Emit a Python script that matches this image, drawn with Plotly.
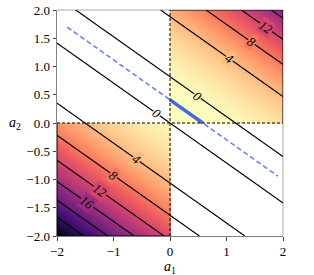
import numpy as np
import plotly.graph_objects as go
from plotly.colors import sample_colorscale

# ---- data ----
W = [1.0, 1.414]            # f depends on v = W[0]*a1 + W[1]*a2
ROOT2 = 1.16                # f = v * (v - ROOT2): zero contours at v = 0 and v = ROOT2
LEVEL_START, LEVEL_END, LEVEL_STEP = 0, 28, 4
MIN_LINE_A1 = [-1.82, 1.91]  # extent of the dashed minimiser line (a1)
SEG_A1 = [0.0, 0.58]         # thick minimiser segment inside first quadrant (a1)

LABEL_TEXT = ["0", "0", "4", "8", "12", "4", "8", "12", "16"]
LABEL_A1 = [-0.235, 0.49, 1.05, 1.435, 1.70, -0.59, -1.00, -1.24, -1.47]
LABEL_A2 = [0.166, 0.474, 1.14, 1.44, 1.69, -0.64, -0.93, -1.195, -1.41]

XTICKS = [-2, -1, 0, 1, 2]
XTICKTEXT = ["\u22122", "\u22121", "0", "1", "2"]
YTICKS = [-2.0, -1.5, -1.0, -0.5, 0.0, 0.5, 1.0, 1.5, 2.0]
YTICKTEXT = ["\u22122.0", "\u22121.5", "\u22121.0", "\u22120.5", "0.0", "0.5", "1.0", "1.5", "2.0"]

# ---- surface ----
a = np.linspace(-2, 2, 401)
A1, A2 = np.meshgrid(a, a)


def f_of(a1, a2):
    v = W[0] * a1 + W[1] * a2
    return v * (v - ROOT2)


F = f_of(A1, A2)
mask = (A1 * A2) >= 0
Fm = np.where(mask, F, np.nan)
zmin, zmax = float(np.nanmin(Fm)), float(np.nanmax(Fm))

CS = "Magma_r"

fig = go.Figure()
fig.add_trace(go.Heatmap(x=a, y=a, z=Fm, colorscale=CS, zmin=zmin, zmax=zmax,
                         showscale=False, hoverinfo="skip", zsmooth=False))
fig.add_trace(go.Contour(x=a, y=a, z=F,
                         contours=dict(start=LEVEL_START, end=LEVEL_END, size=LEVEL_STEP,
                                       coloring="lines", showlabels=False),
                         colorscale=[[0, "black"], [1, "black"]],
                         line=dict(width=1.2), showscale=False, hoverinfo="skip"))

# minimiser line v = ROOT2/2
vmin = ROOT2 / 2
ml_a1 = np.array(MIN_LINE_A1)
fig.add_trace(go.Scatter(x=ml_a1, y=(vmin - W[0] * ml_a1) / W[1], mode="lines",
                         line=dict(color="rgba(80,120,235,0.9)", width=1.6, dash="5px,3px"),
                         hoverinfo="skip"))
sg_a1 = np.array(SEG_A1)
fig.add_trace(go.Scatter(x=sg_a1, y=(vmin - W[0] * sg_a1) / W[1], mode="lines",
                         line=dict(color="royalblue", width=3.5), hoverinfo="skip"))

shapes = []
# quadrant borders (dashed)
shapes.append(dict(type="line", xref="x", yref="y", x0=0, x1=0, y0=-2, y1=2,
                   line=dict(color="black", width=1, dash="3px,2px")))
shapes.append(dict(type="line", xref="x", yref="y", x0=-2, x1=2, y0=0, y1=0,
                   line=dict(color="black", width=1, dash="3px,2px")))
# outer borders of the shaded squares
for x0, y0, x1, y1 in [(0, 2, 2, 2), (2, 0, 2, 2), (-2, -2, 0, -2), (-2, -2, -2, 0)]:
    shapes.append(dict(type="line", xref="x", yref="y", x0=x0, x1=x1, y0=y0, y1=y1,
                       line=dict(color="black", width=1)))
# top/right spines in light grey
shapes.append(dict(type="line", xref="paper", yref="paper", x0=0, x1=1, y0=1, y1=1,
                   line=dict(color="#c4c4c4", width=1.5), layer="below"))
shapes.append(dict(type="line", xref="paper", yref="paper", x0=1, x1=1, y0=0, y1=1,
                   line=dict(color="#c4c4c4", width=1.5), layer="below"))

annotations = []
for t, x, y in zip(LABEL_TEXT, LABEL_A1, LABEL_A2):
    if x * y >= 0:
        fv = f_of(x, y)
        bg = sample_colorscale(CS, [(fv - zmin) / (zmax - zmin)])[0]
    else:
        bg = "white"
    annotations.append(dict(x=x, y=y, xref="x", yref="y", text="<i>" + t + "</i>",
                            showarrow=False, textangle=35, bgcolor=bg, borderpad=0,
                            font=dict(family="Liberation Serif", size=13, color="black")))
annotations.append(dict(x=0, y=-0.139, xref="x", yref="paper", xanchor="center",
                        yanchor="middle", text="<i>a</i><sub>1</sub>", showarrow=False,
                        font=dict(family="Liberation Serif", size=14, color="black")))
annotations.append(dict(x=-0.186, y=0, xref="paper", yref="y", xanchor="center",
                        yanchor="middle", text="<i>a</i><sub>2</sub>", showarrow=False,
                        font=dict(family="Liberation Serif", size=14, color="black")))

axis_common = dict(showgrid=False, zeroline=False, ticks="outside", ticklen=3.5,
                   tickwidth=1, tickcolor="#444", showline=True, linecolor="#808080",
                   linewidth=1, automargin=False,
                   tickfont=dict(family="Liberation Serif", size=13, color="black"))
fig.update_layout(
    width=314, height=275,
    margin=dict(l=57, r=31, t=10, b=38.5, autoexpand=False),
    paper_bgcolor="white", plot_bgcolor="white",
    showlegend=False,
    xaxis=dict(range=[-2, 2], tickvals=XTICKS, ticktext=XTICKTEXT, **axis_common),
    yaxis=dict(range=[-2, 2], tickvals=YTICKS, ticktext=YTICKTEXT, **axis_common),
    shapes=shapes, annotations=annotations,
)
fig.write_html("out.html", config={"displayModeBar": False},
               post_script="document.body.style.margin='0';")
